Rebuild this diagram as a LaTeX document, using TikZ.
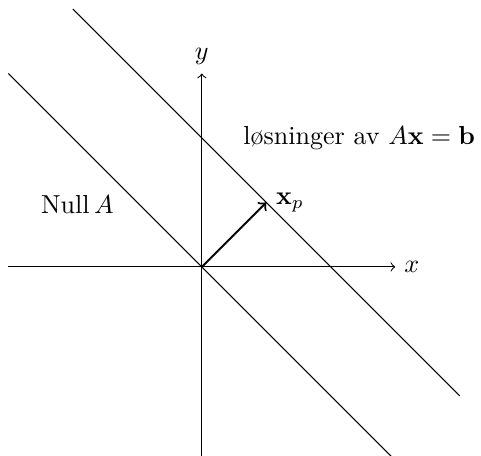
\documentclass[tikz,border=0pt]{standalone}
\begin{document}
\begin{tikzpicture}[x=0.87cm,y=0.87cm, axis/.style={->}, soln/.style={}, vec/.style={->,thick}]
\useasboundingbox (-3.13,-2.92) rectangle (4.33,4.14);
\coordinate (O) at (0,0);
\coordinate (xl) at (-3,0);
\coordinate (xr) at (3,0);
\coordinate (yb) at (0,-3);
\coordinate (yt) at (0,3);
\coordinate (n1) at (-3,3);
\coordinate (n2) at (3,-3);
\coordinate (s1) at (-2,4);
\coordinate (s2) at (4,-2);
\coordinate (xp) at (1,1);
\draw[axis] (xl) -- (xr) node[right] (xlab) {$x$};
\draw[axis] (yb) -- (yt) node[above] (ylab) {$y$};
\draw[soln] (n1) -- (n2);
\draw[soln] (s1) -- (s2);
\draw[vec] (O) -- (xp) node[right] (xplab) {$\mathbf{x}_p$};
\node (null) at (-1.93,0.97) {Null\,$A$};
\node (sol) at (2.44,2.0) {løsninger av $A\mathbf{x}=\mathbf{b}$};
\end{tikzpicture}
\end{document}
